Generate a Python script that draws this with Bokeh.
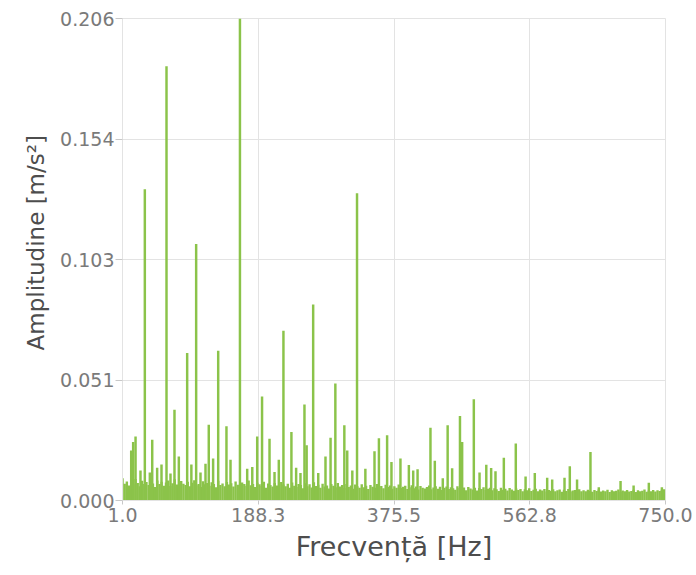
from bokeh.plotting import figure
from bokeh.models import ColumnDataSource, Range1d, FixedTicker, Title
from bokeh.embed import file_html
from bokeh.resources import INLINE

# ---- data ----
floor_start_hz = 1.0
floor_step_hz = 3.0
floor_amp = [
    0.0095, 0.0072, 0.0081, 0.0064, 0.0088, 0.0069, 0.0092, 0.0075, 0.0061, 0.0084,
    0.0070, 0.0079, 0.0066, 0.0090, 0.0073, 0.0058, 0.0086, 0.0071, 0.0080, 0.0063,
    0.0077, 0.0085, 0.0062, 0.0074, 0.0091, 0.0068, 0.0059, 0.0083, 0.0072, 0.0066,
    0.0080, 0.0061, 0.0076, 0.0087, 0.0065, 0.0071, 0.0058, 0.0082, 0.0069, 0.0075,
    0.0063, 0.0078, 0.0070, 0.0057, 0.0084, 0.0066, 0.0073, 0.0061, 0.0079, 0.0068,
    0.0074, 0.0060, 0.0081, 0.0067, 0.0056, 0.0077, 0.0070, 0.0063, 0.0085, 0.0065,
    0.0071, 0.0058, 0.0076, 0.0069, 0.0062, 0.0080, 0.0055, 0.0073, 0.0066, 0.0060,
    0.0075, 0.0064, 0.0057, 0.0079, 0.0068, 0.0061, 0.0072, 0.0054, 0.0077, 0.0063,
    0.0058, 0.0070, 0.0066, 0.0052, 0.0074, 0.0061, 0.0069, 0.0056, 0.0078, 0.0062,
    0.0067, 0.0055, 0.0072, 0.0060, 0.0064, 0.0051, 0.0070, 0.0063, 0.0057, 0.0075,
    0.0060, 0.0066, 0.0053, 0.0071, 0.0058, 0.0064, 0.0050, 0.0068, 0.0061, 0.0055,
    0.0069, 0.0057, 0.0063, 0.0049, 0.0066, 0.0059, 0.0054, 0.0070, 0.0056, 0.0062,
    0.0052, 0.0067, 0.0058, 0.0064, 0.0050, 0.0061, 0.0055, 0.0068, 0.0053, 0.0059,
    0.0063, 0.0049, 0.0057, 0.0065, 0.0052, 0.0060, 0.0047, 0.0062, 0.0055, 0.0051,
    0.0058, 0.0064, 0.0048, 0.0056, 0.0061, 0.0050, 0.0059, 0.0045, 0.0054, 0.0060,
    0.0049, 0.0057, 0.0052, 0.0046, 0.0061, 0.0053, 0.0048, 0.0056, 0.0044, 0.0058,
    0.0051, 0.0047, 0.0055, 0.0043, 0.0053, 0.0049, 0.0057, 0.0045, 0.0050, 0.0054,
    0.0044, 0.0052, 0.0048, 0.0041, 0.0055, 0.0046, 0.0050, 0.0043, 0.0053, 0.0047,
    0.0042, 0.0051, 0.0045, 0.0049, 0.0040, 0.0048, 0.0044, 0.0052, 0.0041, 0.0046,
    0.0050, 0.0039, 0.0047, 0.0043, 0.0049, 0.0038, 0.0045, 0.0042, 0.0048, 0.0040,
    0.0044, 0.0047, 0.0037, 0.0046, 0.0041, 0.0049, 0.0038, 0.0043, 0.0045, 0.0036,
    0.0048, 0.0040, 0.0044, 0.0039, 0.0046, 0.0042, 0.0037, 0.0045, 0.0041, 0.0047,
    0.0038, 0.0043, 0.0040, 0.0046, 0.0036, 0.0044, 0.0039, 0.0042, 0.0047, 0.0037,
    0.0043, 0.0040, 0.0045, 0.0038, 0.0041, 0.0046, 0.0036, 0.0044, 0.0039, 0.0042,
    0.0047, 0.0037, 0.0043, 0.0040, 0.0045, 0.0038, 0.0044, 0.0041, 0.0046, 0.0048,
]

peak_hz = [
    13.0, 15.7, 19.0, 25.8, 31.8, 38.7, 42.0, 48.8, 54.8, 61.7,
    67.2, 72.7, 78.7, 90.2, 96.0, 102.6, 108.6, 115.5, 120.0, 126.0,
    133.0, 144.4, 150.0, 163.0, 173.0, 180.0, 186.8, 193.5, 203.8, 210.7,
    216.6, 223.0, 234.0, 240.5, 246.5, 252.0, 255.0, 264.0, 271.0, 281.0,
    288.0, 294.6, 307.0, 311.0, 318.0, 324.5, 336.0, 348.6, 354.7, 366.0,
    372.0, 384.4, 396.0, 402.0, 408.0, 425.8, 431.8, 442.8, 449.5, 455.7,
    466.5, 469.5, 485.6, 493.5, 502.8, 509.5, 515.5, 527.0, 543.5, 557.0,
    569.7, 586.8, 593.7, 610.7, 618.0, 628.0, 646.5, 658.0, 688.0, 706.0,
    727.0, 745.0,
]
peak_amp = [
    0.0214, 0.0250, 0.0274, 0.0128, 0.1330, 0.0120, 0.0260, 0.0140, 0.0154, 0.1856,
    0.0115, 0.0388, 0.0188, 0.0630, 0.0154, 0.1096, 0.0120, 0.0157, 0.0324, 0.0180,
    0.0640, 0.0317, 0.0174, 0.2060, 0.0136, 0.0143, 0.0274, 0.0445, 0.0264, 0.0122,
    0.0174, 0.0725, 0.0293, 0.0140, 0.0117, 0.0410, 0.0236, 0.0838, 0.0117, 0.0188,
    0.0268, 0.0500, 0.0322, 0.0214, 0.0128, 0.1313, 0.0136, 0.0211, 0.0266, 0.0279,
    0.0165, 0.0179, 0.0152, 0.0128, 0.0134, 0.0311, 0.0170, 0.0095, 0.0322, 0.0138,
    0.0361, 0.0250, 0.0433, 0.0120, 0.0153, 0.0139, 0.0125, 0.0183, 0.0244, 0.0103,
    0.0118, 0.0097, 0.0090, 0.0097, 0.0146, 0.0090, 0.0207, 0.0057, 0.0083, 0.0064,
    0.0076, 0.0057,
]

x_ticks = [1.0, 188.25, 375.5, 562.75, 750.0]
x_tick_labels = ["1.0", "188.3", "375.5", "562.8", "750.0"]
y_ticks = [0.0, 0.0515, 0.103, 0.1545, 0.206]
y_tick_labels = ["0.000", "0.051", "0.103", "0.154", "0.206"]
x_title = "Frecvență [Hz]"
y_title = "Amplitudine [m/s²]"

GREEN = "#8bc34a"
GRID = "#e3e3e3"

floor_hz = [floor_start_hz + floor_step_hz * i for i in range(len(floor_amp))]
floor_src = ColumnDataSource(dict(x=floor_hz, top=floor_amp))
peak_src = ColumnDataSource(dict(x=peak_hz, top=peak_amp))

p = figure(width=696, height=575, output_backend="svg", toolbar_location=None,
           x_range=Range1d(1.0, 750.0), y_range=Range1d(0.0, 0.206))
p.min_border_left = 122
p.min_border_right = 31
p.min_border_top = 18
p.min_border_bottom = 75

p.vbar(x="x", top="top", bottom=0, width=3.3, source=floor_src,
       fill_color=GREEN, line_color=None)
p.vbar(x="x", top="top", bottom=0, width=3.4, source=peak_src,
       fill_color=GREEN, line_color=None)

p.xaxis.ticker = FixedTicker(ticks=x_ticks)
p.yaxis.ticker = FixedTicker(ticks=y_ticks)
p.xaxis.major_label_overrides = {t: l for t, l in zip(x_ticks, x_tick_labels)}
p.yaxis.major_label_overrides = {t: l for t, l in zip(y_ticks, y_tick_labels)}

p.xaxis.axis_label = x_title

for ax in (p.xaxis[0], p.yaxis[0]):
    ax.axis_label_text_font = "DejaVu Sans"
    ax.axis_label_text_font_size = "27px"
    ax.axis_label_text_font_style = "normal"
    ax.axis_label_text_color = "#4d4d4d"
    ax.major_label_text_font = "DejaVu Sans"
    ax.major_label_text_font_size = "19px"
    ax.major_label_text_color = "#7a7a7a"
    ax.axis_line_color = GRID
    ax.major_tick_line_color = "#c8c8c8"
    ax.major_tick_in = 0
    ax.minor_tick_line_color = None

p.xaxis.major_tick_out = 4
p.yaxis.major_tick_out = 7
p.xaxis.major_label_standoff = 3
p.xaxis.axis_label_standoff = 6
p.yaxis.major_label_standoff = 1

# y-axis title as a side title, starting a little above the frame bottom
ytitle = Title(text=y_title, align="left", offset=150, standoff=18,
               text_font="DejaVu Sans", text_font_size="23px",
               text_font_style="normal", text_color="#4d4d4d")
p.add_layout(ytitle, "left")

p.xgrid.grid_line_color = GRID
p.ygrid.grid_line_color = GRID
p.outline_line_color = GRID
p.background_fill_color = "white"
p.border_fill_color = "white"

open("out.html", "w").write(file_html(p, INLINE))
